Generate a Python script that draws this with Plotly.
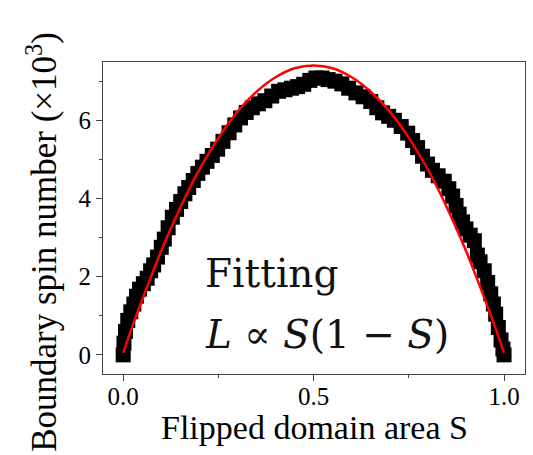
import plotly.graph_objects as go

# Measured data (flipped domain area S, boundary spin number x10^3)
area_s = [0.000, 0.002, 0.006, 0.012, 0.020, 0.028, 0.035, 0.043, 0.053, 0.063,
          0.072, 0.080, 0.090, 0.100, 0.108, 0.118, 0.129, 0.140, 0.151, 0.162,
          0.172, 0.184, 0.196, 0.208, 0.220, 0.234, 0.248, 0.262, 0.278, 0.293,
          0.308, 0.323, 0.339, 0.355, 0.372, 0.390, 0.408, 0.425, 0.442, 0.458,
          0.474, 0.490, 0.506, 0.522, 0.538, 0.556, 0.574, 0.592, 0.611, 0.630,
          0.650, 0.666, 0.681, 0.697, 0.712, 0.730, 0.747, 0.760, 0.773, 0.786,
          0.799, 0.812, 0.827, 0.843, 0.855, 0.865, 0.874, 0.882, 0.891, 0.900,
          0.911, 0.922, 0.930, 0.937, 0.948, 0.957, 0.965, 0.972, 0.978, 0.985,
          0.992, 0.997, 1.000]
boundary_spins = [0.00, 0.30, 0.60, 0.88, 1.10, 1.30, 1.50, 1.68, 1.82, 1.96,
                  2.15, 2.30, 2.50, 2.75, 2.96, 3.25, 3.52, 3.72, 3.92, 4.12,
                  4.28, 4.46, 4.64, 4.80, 4.95, 5.10, 5.26, 5.46, 5.68, 5.88,
                  6.06, 6.20, 6.32, 6.42, 6.50, 6.62, 6.74, 6.78, 6.82, 6.86,
                  6.92, 7.02, 7.08, 7.08, 7.04, 7.00, 6.93, 6.82, 6.70, 6.60,
                  6.48, 6.32, 6.19, 6.10, 6.00, 5.84, 5.67, 5.48, 5.30, 5.08,
                  4.88, 4.72, 4.58, 4.44, 4.25, 4.06, 3.82, 3.60, 3.40, 3.22,
                  3.06, 2.92, 2.55, 2.38, 2.15, 1.85, 1.56, 1.30, 1.04, 0.70,
                  0.38, 0.15, 0.00]

# Fitted curve L ∝ S(1-S)
fit_s = [0.00, 0.02, 0.05, 0.10, 0.15, 0.20, 0.25, 0.30, 0.35, 0.40, 0.45, 0.50,
         0.55, 0.60, 0.65, 0.70, 0.75, 0.80, 0.85, 0.90, 0.95, 0.98, 1.00]
fit_l = [0.05, 0.62, 1.41, 2.66, 3.77, 4.74, 5.55, 6.22, 6.73, 7.10, 7.33, 7.40,
         7.33, 7.10, 6.73, 6.22, 5.55, 4.74, 3.77, 2.66, 1.41, 0.62, 0.05]

x_tick_vals = [0.0, 0.5, 1.0]
x_tick_text = ["0.0", "0.5", "1.0"]
y_tick_vals = [0, 2, 4, 6]
y_tick_text = ["0", "2", "4", "6"]

FONT = "Liberation Serif"
ANN_FONT = "DejaVu Serif"

fig = go.Figure()
fig.add_trace(go.Scatter(
    x=area_s, y=boundary_spins, mode="markers",
    marker=dict(symbol="square", size=15, color="black", line=dict(width=0)),
    showlegend=False, hoverinfo="skip"))
fig.add_trace(go.Scatter(
    x=fit_s, y=fit_l, mode="lines", line=dict(color="#ff0000", width=2.5, shape="spline"),
    showlegend=False, hoverinfo="skip"))

axis_common = dict(showline=True, linecolor="#444", linewidth=1, mirror=True,
                   ticks="outside", ticklen=6, tickcolor="#444", showgrid=False,
                   zeroline=False, tickfont=dict(family=FONT, size=25, color="black"))

fig.update_xaxes(range=[-0.053, 1.055], tickvals=x_tick_vals, ticktext=x_tick_text,
                 ticklabelstandoff=-6,
                 minor=dict(ticks="outside", ticklen=3, tickvals=[0.25, 0.75], tickcolor="#444"),
                 **axis_common)
fig.update_yaxes(range=[-0.49, 7.49], tickvals=y_tick_vals, ticktext=y_tick_text,
                 minor=dict(ticks="outside", ticklen=3, tickvals=[1, 3, 5, 7], tickcolor="#444"),
                 **axis_common)

fig.add_annotation(text="Flipped domain area S", xref="paper", yref="paper",
                   x=0.5, y=-0.105, xanchor="center", yanchor="top", showarrow=False,
                   font=dict(family=FONT, size=34, color="black"))
fig.add_annotation(text="Boundary spin number (×10<sup>3</sup>)", xref="paper", yref="paper",
                   x=-0.145, y=0.423, xanchor="center", yanchor="middle", textangle=-90,
                   showarrow=False, font=dict(family=FONT, size=35, color="black"))
fig.add_annotation(text="Fitting", xref="paper", yref="paper",
                   x=0.237, y=0.40, xanchor="left", yanchor="top", showarrow=False,
                   font=dict(family=ANN_FONT, size=39, color="#111"))
fig.add_annotation(text="<i>L</i> ∝ <i>S</i>(1 − <i>S</i>)", xref="paper", yref="paper",
                   x=0.237, y=0.205, xanchor="left", yanchor="top", showarrow=False,
                   font=dict(family=ANN_FONT, size=39, color="#111"))

fig.update_layout(width=533, height=455, autosize=False,
                  margin=dict(l=103, r=8, t=62, b=81),
                  paper_bgcolor="white", plot_bgcolor="white")

fig.write_html("out.html")
